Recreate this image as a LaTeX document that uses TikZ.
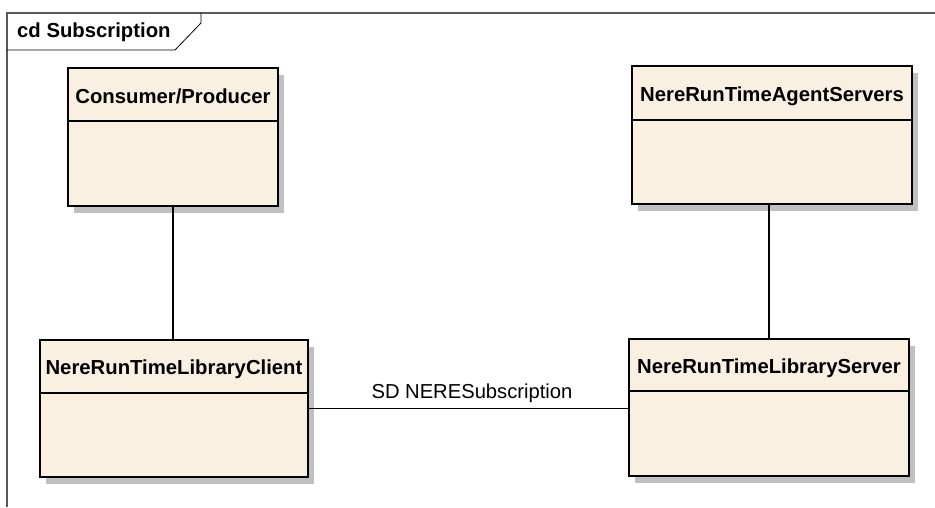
\documentclass[tikz,border=0pt]{standalone}
\usepackage{fontspec}
\setmainfont{Liberation Sans}
\usetikzlibrary{calc,shadows}
\definecolor{clsfill}{HTML}{FAF0E2}
\definecolor{shade}{HTML}{C0C0C0}
\definecolor{framegray}{HTML}{585858}
\tikzset{
  cls/.style={draw=black, line width=1.6pt, fill=clsfill, inner sep=0pt,
    drop shadow={shadow xshift=6pt, shadow yshift=-7pt, fill=shade, opacity=1}},
  clsname/.style={font=\bfseries\fontsize{20.3}{24}\selectfont, anchor=base, inner sep=0pt},
  lab/.style={font=\fontsize{20.2}{24}\selectfont, anchor=base, inner sep=0pt},
  sep/.style={draw=black, line width=1.6pt},
  assoc/.style={draw=black, line width=1.6pt}
}

\begin{document}
\begin{tikzpicture}[x=1pt,y=-1pt]
  \useasboundingbox[fill=white] (0,0) rectangle (935,507);

  % diagram frame and its name tab
  \draw[framegray, line width=1.4pt] (7,507) -- (7,13) -- (935,13);
  \draw[line width=0.8pt] (7,50) -- (175,50) -- (201,23) -- (201,13);
  \node[clsname, anchor=base west] (title) at (17,37) {cd Subscription};

  % classes
  \node[cls, minimum width=210pt, minimum height=138pt] (cons) at (173,137) {};
  \node[cls, minimum width=280pt, minimum height=138pt] (agent) at (772,135) {};
  \node[cls, minimum width=268pt, minimum height=137pt] (client) at (174,408.5) {};
  \node[cls, minimum width=280pt, minimum height=137pt] (server) at (769,407.5) {};

  % name compartments
  \draw[sep] ($(cons.north west)+(0,54)$) -- ($(cons.north east)+(0,54)$);
  \draw[sep] ($(agent.north west)+(0,55)$) -- ($(agent.north east)+(0,55)$);
  \draw[sep] ($(client.north west)+(0,54)$) -- ($(client.north east)+(0,54)$);
  \draw[sep] ($(server.north west)+(0,53)$) -- ($(server.north east)+(0,53)$);

  \node[clsname] (consname) at ($(cons.north)+(0,36)$) {Consumer/Producer};
  \node[clsname] (agentname) at ($(agent.north)+(0,36)$) {NereRunTimeAgentServers};
  \node[clsname] (clientname) at ($(client.north)+(0,35)$) {NereRunTimeLibraryClient};
  \node[clsname] (servername) at ($(server.north)+(0,35)$) {NereRunTimeLibraryServer};

  % associations
  \draw[assoc] (cons.south) -- (cons.south |- client.north);
  \draw[assoc] (server.north) -- (server.north |- agent.south);
  \draw[assoc] (client.east) -- (client.east -| server.west);
  \node[lab] (sdlab) at (472,398) {SD NERESubscription};
\end{tikzpicture}
\end{document}
